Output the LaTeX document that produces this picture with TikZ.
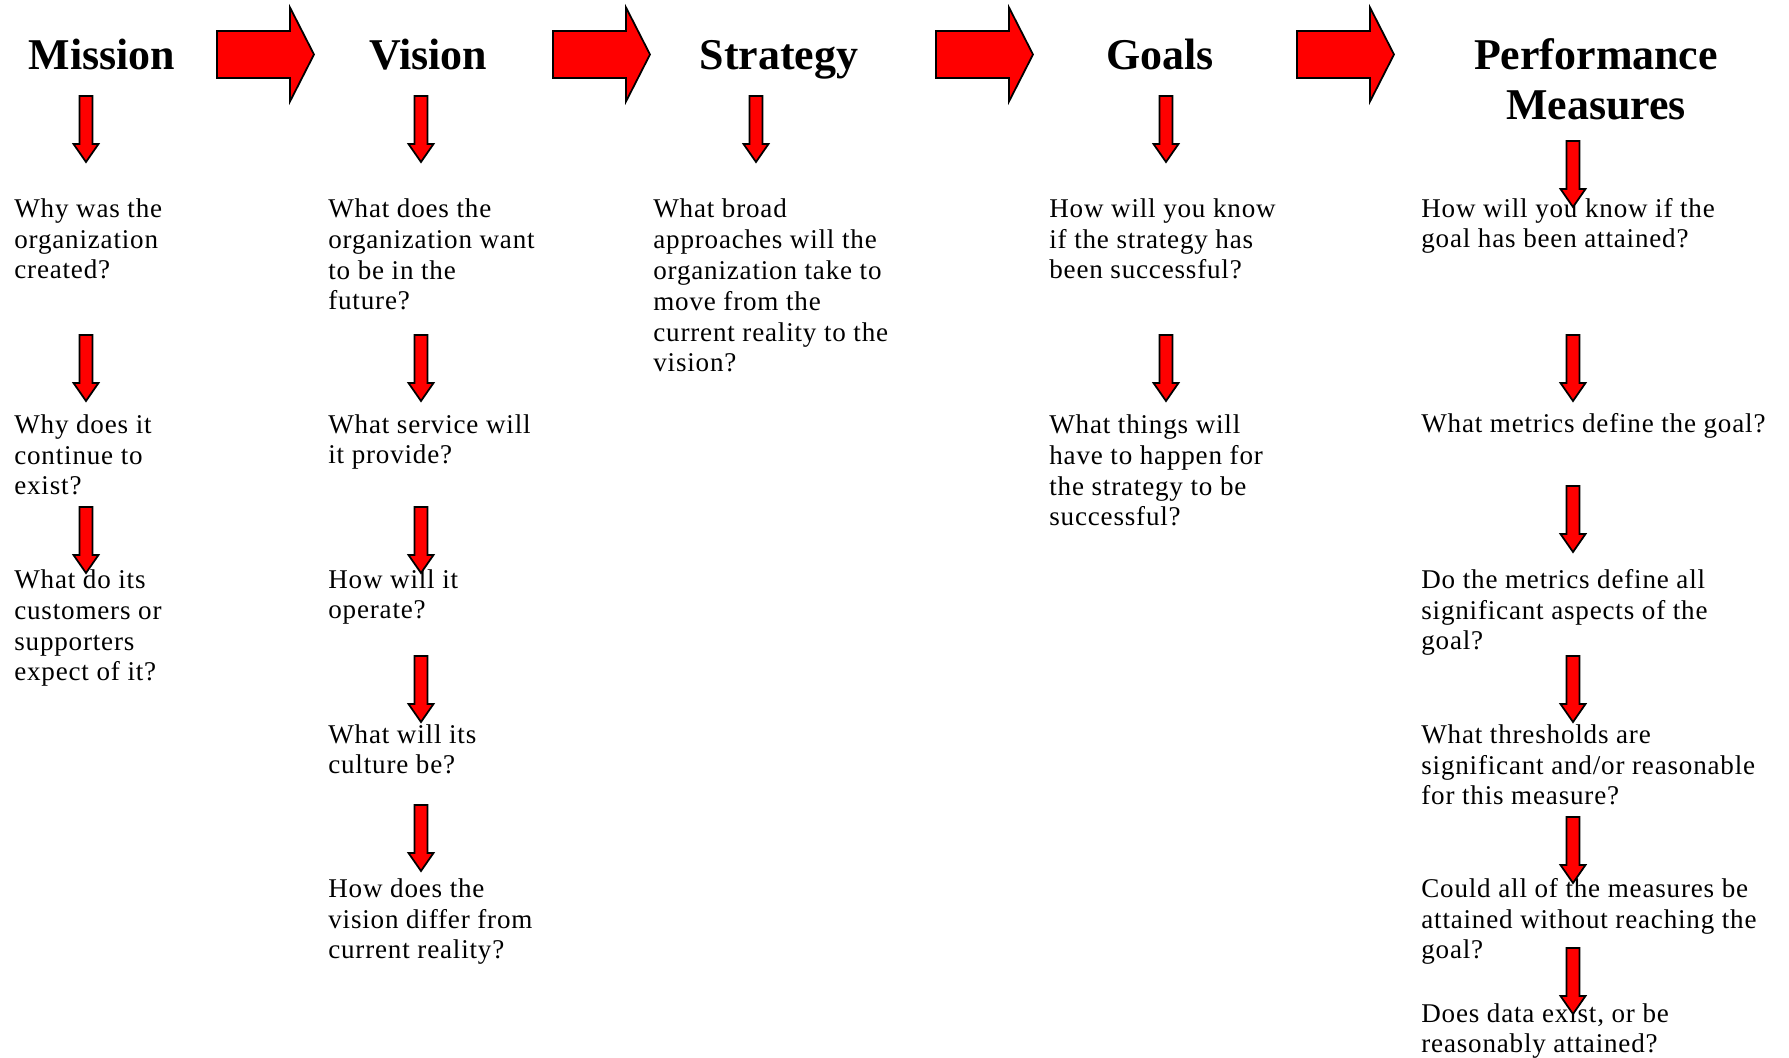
\documentclass[tikz,border=0pt]{standalone}
\usepackage{fontspec}
\setmainfont[LetterSpace=3]{Liberation Serif}
\newfontfamily\headfont{Liberation Serif}
\definecolor{arrowred}{HTML}{FF0000}

\begin{document}
\begin{tikzpicture}[x=1cm,y=1cm,
    blockarrow/.style={fill=arrowred,draw=black,line width=1pt},
    heading/.style={anchor=base,align=center,inner sep=0pt,font=\headfont\fontsize{25}{28.45}\selectfont\bfseries},
    question/.style={anchor=base west,align=left,inner sep=0pt,font=\fontsize{15.4}{17.6}\selectfont},
    bigarrow/.pic={\draw[blockarrow] (0,.47) -- (1.46,.47) -- (1.46,.94) -- (1.94,0) -- (1.46,-.94) -- (1.46,-.47) -- (0,-.47) -- cycle;},
    downarrow/.pic={\draw[blockarrow] (-.13,0) -- (.13,0) -- (.13,-.96) -- (.25,-.96) -- (0,-1.32) -- (-.25,-.96) -- (-.13,-.96) -- cycle;}]
        \useasboundingbox (0,0) rectangle (35.78,21.16);

        % multi-line nodes sit on the baseline of their last line
        \node[heading] (mission) at (2.04,19.76) {Mission};
        \node[heading] (vision) at (8.56,19.76) {Vision};
        \node[heading] (strategy) at (15.58,19.76) {Strategy};
        \node[heading] (goals) at (23.2,19.76) {Goals};
        \node[heading] (perf) at (31.92,18.76) {Performance\\Measures};

        \pic at (4.34,20.07) {bigarrow};
        \pic at (11.06,20.07) {bigarrow};
        \pic at (18.72,20.07) {bigarrow};
        \pic at (25.94,20.07) {bigarrow};

        \node[question] (m1) at (.28,15.58) {Why was the\\organization\\created?};
        \node[question] (m2) at (.28,11.26) {Why does it\\continue to\\exist?};
        \node[question] (m3) at (.28,7.54) {What do its\\customers or\\supporters\\expect of it?};
        \pic at (1.72,19.24) {downarrow};
        \pic at (1.72,14.46) {downarrow};
        \pic at (1.72,11.02) {downarrow};

        \node[question] (v1) at (6.56,14.96) {What does the\\organization want\\to be in the\\future?};
        \node[question] (v2) at (6.56,11.88) {What service will\\it provide?};
        \node[question] (v3) at (6.56,8.78) {How will it\\operate?};
        \node[question] (v4) at (6.56,5.68) {What will its\\culture be?};
        \node[question] (v5) at (6.56,1.98) {How does the\\vision differ from\\current reality?};
        \pic at (8.42,19.24) {downarrow};
        \pic at (8.42,14.46) {downarrow};
        \pic at (8.42,11.02) {downarrow};
        \pic at (8.42,8.04) {downarrow};
        \pic at (8.42,5.06) {downarrow};

        \node[question] (s1) at (13.06,13.72) {What broad\\approaches will the\\organization take to\\move from the\\current reality to the\\vision?};
        \pic at (15.12,19.24) {downarrow};

        \node[question] (g1) at (20.98,15.58) {How will you know\\if the strategy has\\been successful?};
        \node[question] (g2) at (20.98,10.64) {What things will\\have to happen for\\the strategy to be\\successful?};
        \pic at (23.32,19.24) {downarrow};
        \pic at (23.32,14.46) {downarrow};

        \node[question] (p1) at (28.42,16.2) {How will you know if the\\goal has been attained?};
        \node[question] (p2) at (28.42,12.5) {What metrics define the goal?};
        \node[question] (p3) at (28.42,8.16) {Do the metrics define all\\significant aspects of the\\goal?};
        \node[question] (p4) at (28.42,5.06) {What thresholds are\\significant and/or reasonable\\for this measure?};
        \node[question] (p5) at (28.42,1.98) {Could all of the measures be\\attained without reaching the\\goal?};
        \node[question] (p6) at (28.42,.1) {Does data exist, or be\\reasonably attained?};
        \pic at (31.46,18.34) {downarrow};
        \pic at (31.46,14.46) {downarrow};
        \pic at (31.46,11.44) {downarrow};
        \pic at (31.46,8.04) {downarrow};
        \pic at (31.46,4.82) {downarrow};
        \pic at (31.46,2.2) {downarrow};
      \end{tikzpicture}
\end{document}
